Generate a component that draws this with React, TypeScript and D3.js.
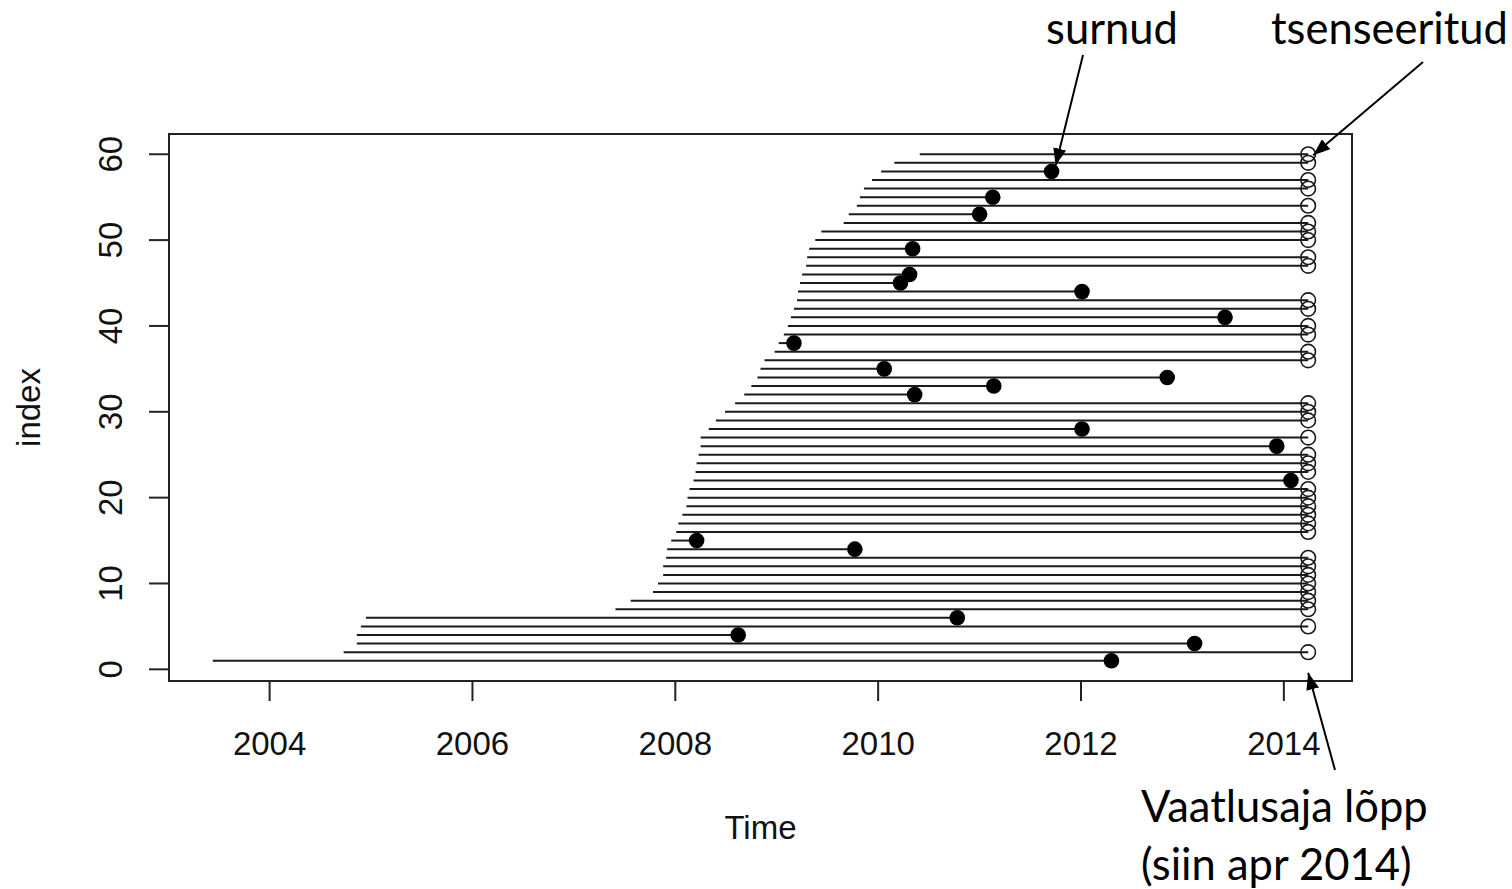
import React from "react";
import * as d3 from "d3";

// Follow-up of 60 subjects: entry time, exit time (death or end of observation) and status.
const entryTime = [
  2003.44, 2004.73, 2004.86, 2004.86, 2004.9, 2004.95, 2007.41, 2007.56, 2007.78, 2007.83,
  2007.88, 2007.88, 2007.91, 2007.92, 2007.96, 2008.01, 2008.03, 2008.07, 2008.11, 2008.12,
  2008.14, 2008.18, 2008.2, 2008.21, 2008.23, 2008.25, 2008.25, 2008.33, 2008.4, 2008.49,
  2008.59, 2008.68, 2008.75, 2008.81, 2008.84, 2008.88, 2008.98, 2009.02, 2009.07, 2009.11,
  2009.14, 2009.17, 2009.2, 2009.21, 2009.23, 2009.25, 2009.29, 2009.3, 2009.32, 2009.38,
  2009.44, 2009.66, 2009.71, 2009.79, 2009.82, 2009.86, 2009.94, 2010.03, 2010.16, 2010.41,
];

const exitTime = [
  2012.3, 2014.24, 2013.12, 2008.62, 2014.24, 2010.78, 2014.24, 2014.24, 2014.24, 2014.24,
  2014.24, 2014.24, 2014.24, 2009.77, 2008.21, 2014.24, 2014.24, 2014.24, 2014.24, 2014.24,
  2014.24, 2014.07, 2014.24, 2014.24, 2014.24, 2013.93, 2014.24, 2012.01, 2014.24, 2014.24,
  2014.24, 2010.36, 2011.14, 2012.85, 2010.06, 2014.24, 2014.24, 2009.17, 2014.24, 2014.24,
  2013.42, 2014.24, 2014.24, 2012.01, 2010.22, 2010.31, 2014.24, 2014.24, 2010.34, 2014.24,
  2014.24, 2014.24, 2011.0, 2014.24, 2011.13, 2014.24, 2014.24, 2011.71, 2014.24, 2014.24,
];

// 1 = died, 0 = censored at end of observation
const status = [
  1, 0, 1, 1, 0, 1, 0, 0, 0, 0,
  0, 0, 0, 1, 1, 0, 0, 0, 0, 0,
  0, 1, 0, 0, 0, 1, 0, 1, 0, 0,
  0, 1, 1, 1, 1, 0, 0, 1, 0, 0,
  1, 0, 0, 1, 1, 1, 0, 0, 1, 0,
  0, 0, 1, 0, 1, 0, 0, 1, 0, 0,
];

const xTicks = [2004, 2006, 2008, 2010, 2012, 2014];
const yTicks = [0, 10, 20, 30, 40, 50, 60];

const W = 1512;
const H = 889;
const box = { left: 169, right: 1352, top: 134, bottom: 681 };

const rFont = "'Liberation Sans', Arial, sans-serif";
const noteFont = "Lato, 'Open Sans', sans-serif";
const noteSize = 43.5;

export default function App() {
  const subjects = entryTime.map((s, i) => ({
    id: i + 1,
    start: s,
    end: exitTime[i],
    died: status[i] === 1,
  }));

  // R-style 4% padding around the data range
  const xMin = d3.min(entryTime)!;
  const xMax = d3.max(exitTime)!;
  const xPad = (xMax - xMin) * 0.04;
  const yPad = (60 - 1) * 0.04;

  const x = d3.scaleLinear().domain([xMin - xPad, xMax + xPad]).range([box.left, box.right]);
  const y = d3.scaleLinear().domain([1 - yPad, 60 + yPad]).range([box.bottom, box.top]);

  const tick = 20;
  const axisColor = "#222";

  return (
    <svg
      width={W}
      height={H}
      viewBox={`0 0 ${W} ${H}`}
      style={{ position: "absolute", left: 0, top: 0, background: "#fff" }}
    >
      <defs>
        <marker
          id="arrowBig"
          viewBox="0 0 10 10"
          refX="10"
          refY="5"
          markerWidth="17"
          markerHeight="13"
          markerUnits="userSpaceOnUse"
          orient="auto"
          preserveAspectRatio="none"
        >
          <path d="M0,0 L10,5 L0,10 z" fill="#000" />
        </marker>
      </defs>

      {/* follow-up segments */}
      {subjects.map((d) => (
        <line
          key={`seg-${d.id}`}
          x1={x(d.start)}
          x2={x(d.end)}
          y1={y(d.id)}
          y2={y(d.id)}
          stroke="#1a1a1a"
          strokeWidth={2}
        />
      ))}

      {/* end points: filled = died, open = censored */}
      {subjects.map((d) =>
        d.died ? (
          <circle key={`pt-${d.id}`} cx={x(d.end)} cy={y(d.id)} r={7.8} fill="#000" />
        ) : (
          <circle
            key={`pt-${d.id}`}
            cx={x(d.end)}
            cy={y(d.id)}
            r={7.3}
            fill="none"
            stroke="#1a1a1a"
            strokeWidth={1.6}
          />
        )
      )}

      {/* plot frame */}
      <rect
        x={box.left}
        y={box.top}
        width={box.right - box.left}
        height={box.bottom - box.top}
        fill="none"
        stroke={axisColor}
        strokeWidth={2}
      />

      {/* x axis */}
      <line
        x1={x(xTicks[0])}
        x2={x(xTicks[xTicks.length - 1])}
        y1={box.bottom}
        y2={box.bottom}
        stroke={axisColor}
        strokeWidth={2}
      />
      {xTicks.map((t) => (
        <g key={`xt-${t}`}>
          <line x1={x(t)} x2={x(t)} y1={box.bottom} y2={box.bottom + tick} stroke={axisColor} strokeWidth={2} />
          <text x={x(t)} y={755} textAnchor="middle" fontFamily={rFont} fontSize={33} fill="#111">
            {t}
          </text>
        </g>
      ))}

      {/* y axis */}
      <line
        x1={box.left}
        x2={box.left}
        y1={y(yTicks[0])}
        y2={y(yTicks[yTicks.length - 1])}
        stroke={axisColor}
        strokeWidth={2}
      />
      {yTicks.map((t) => (
        <g key={`yt-${t}`}>
          <line x1={box.left - tick} x2={box.left} y1={y(t)} y2={y(t)} stroke={axisColor} strokeWidth={2} />
          <text
            transform={`translate(122, ${y(t)}) rotate(-90)`}
            textAnchor="middle"
            fontFamily={rFont}
            fontSize={33}
            fill="#111"
          >
            {t}
          </text>
        </g>
      ))}

      {/* axis titles */}
      <text x={(box.left + box.right) / 2} y={839} textAnchor="middle" fontFamily={rFont} fontSize={33} fill="#111">
        Time
      </text>
      <text
        transform={`translate(40, ${(box.top + box.bottom) / 2}) rotate(-90)`}
        textAnchor="middle"
        fontFamily={rFont}
        fontSize={33}
        fill="#111"
      >
        index
      </text>

      {/* annotations */}
      <text x={1112} y={44} textAnchor="middle" fontFamily={noteFont} fontSize={noteSize} fill="#000">
        surnud
      </text>
      <line x1={1083} y1={55} x2={x(exitTime[57]) + 4} y2={y(58) - 6} stroke="#000" strokeWidth={2} markerEnd="url(#arrowBig)" />

      <text x={1271} y={44} textAnchor="start" fontFamily={noteFont} fontSize={noteSize} fill="#000">
        tsenseeritud
      </text>
      <line x1={1423} y1={62} x2={x(exitTime[59]) + 5} y2={y(60) + 1} stroke="#000" strokeWidth={2} markerEnd="url(#arrowBig)" />

      <text x={1141} y={822} textAnchor="start" fontFamily={noteFont} fontSize={noteSize} fill="#000">
        Vaatlusaja lõpp
      </text>
      <text x={1141} y={880} textAnchor="start" fontFamily={noteFont} fontSize={noteSize} fill="#000">
        (siin apr 2014)
      </text>
      <line x1={1335} y1={770} x2={x(exitTime[1])} y2={y(1) + 12} stroke="#000" strokeWidth={2} markerEnd="url(#arrowBig)" />
    </svg>
  );
}
